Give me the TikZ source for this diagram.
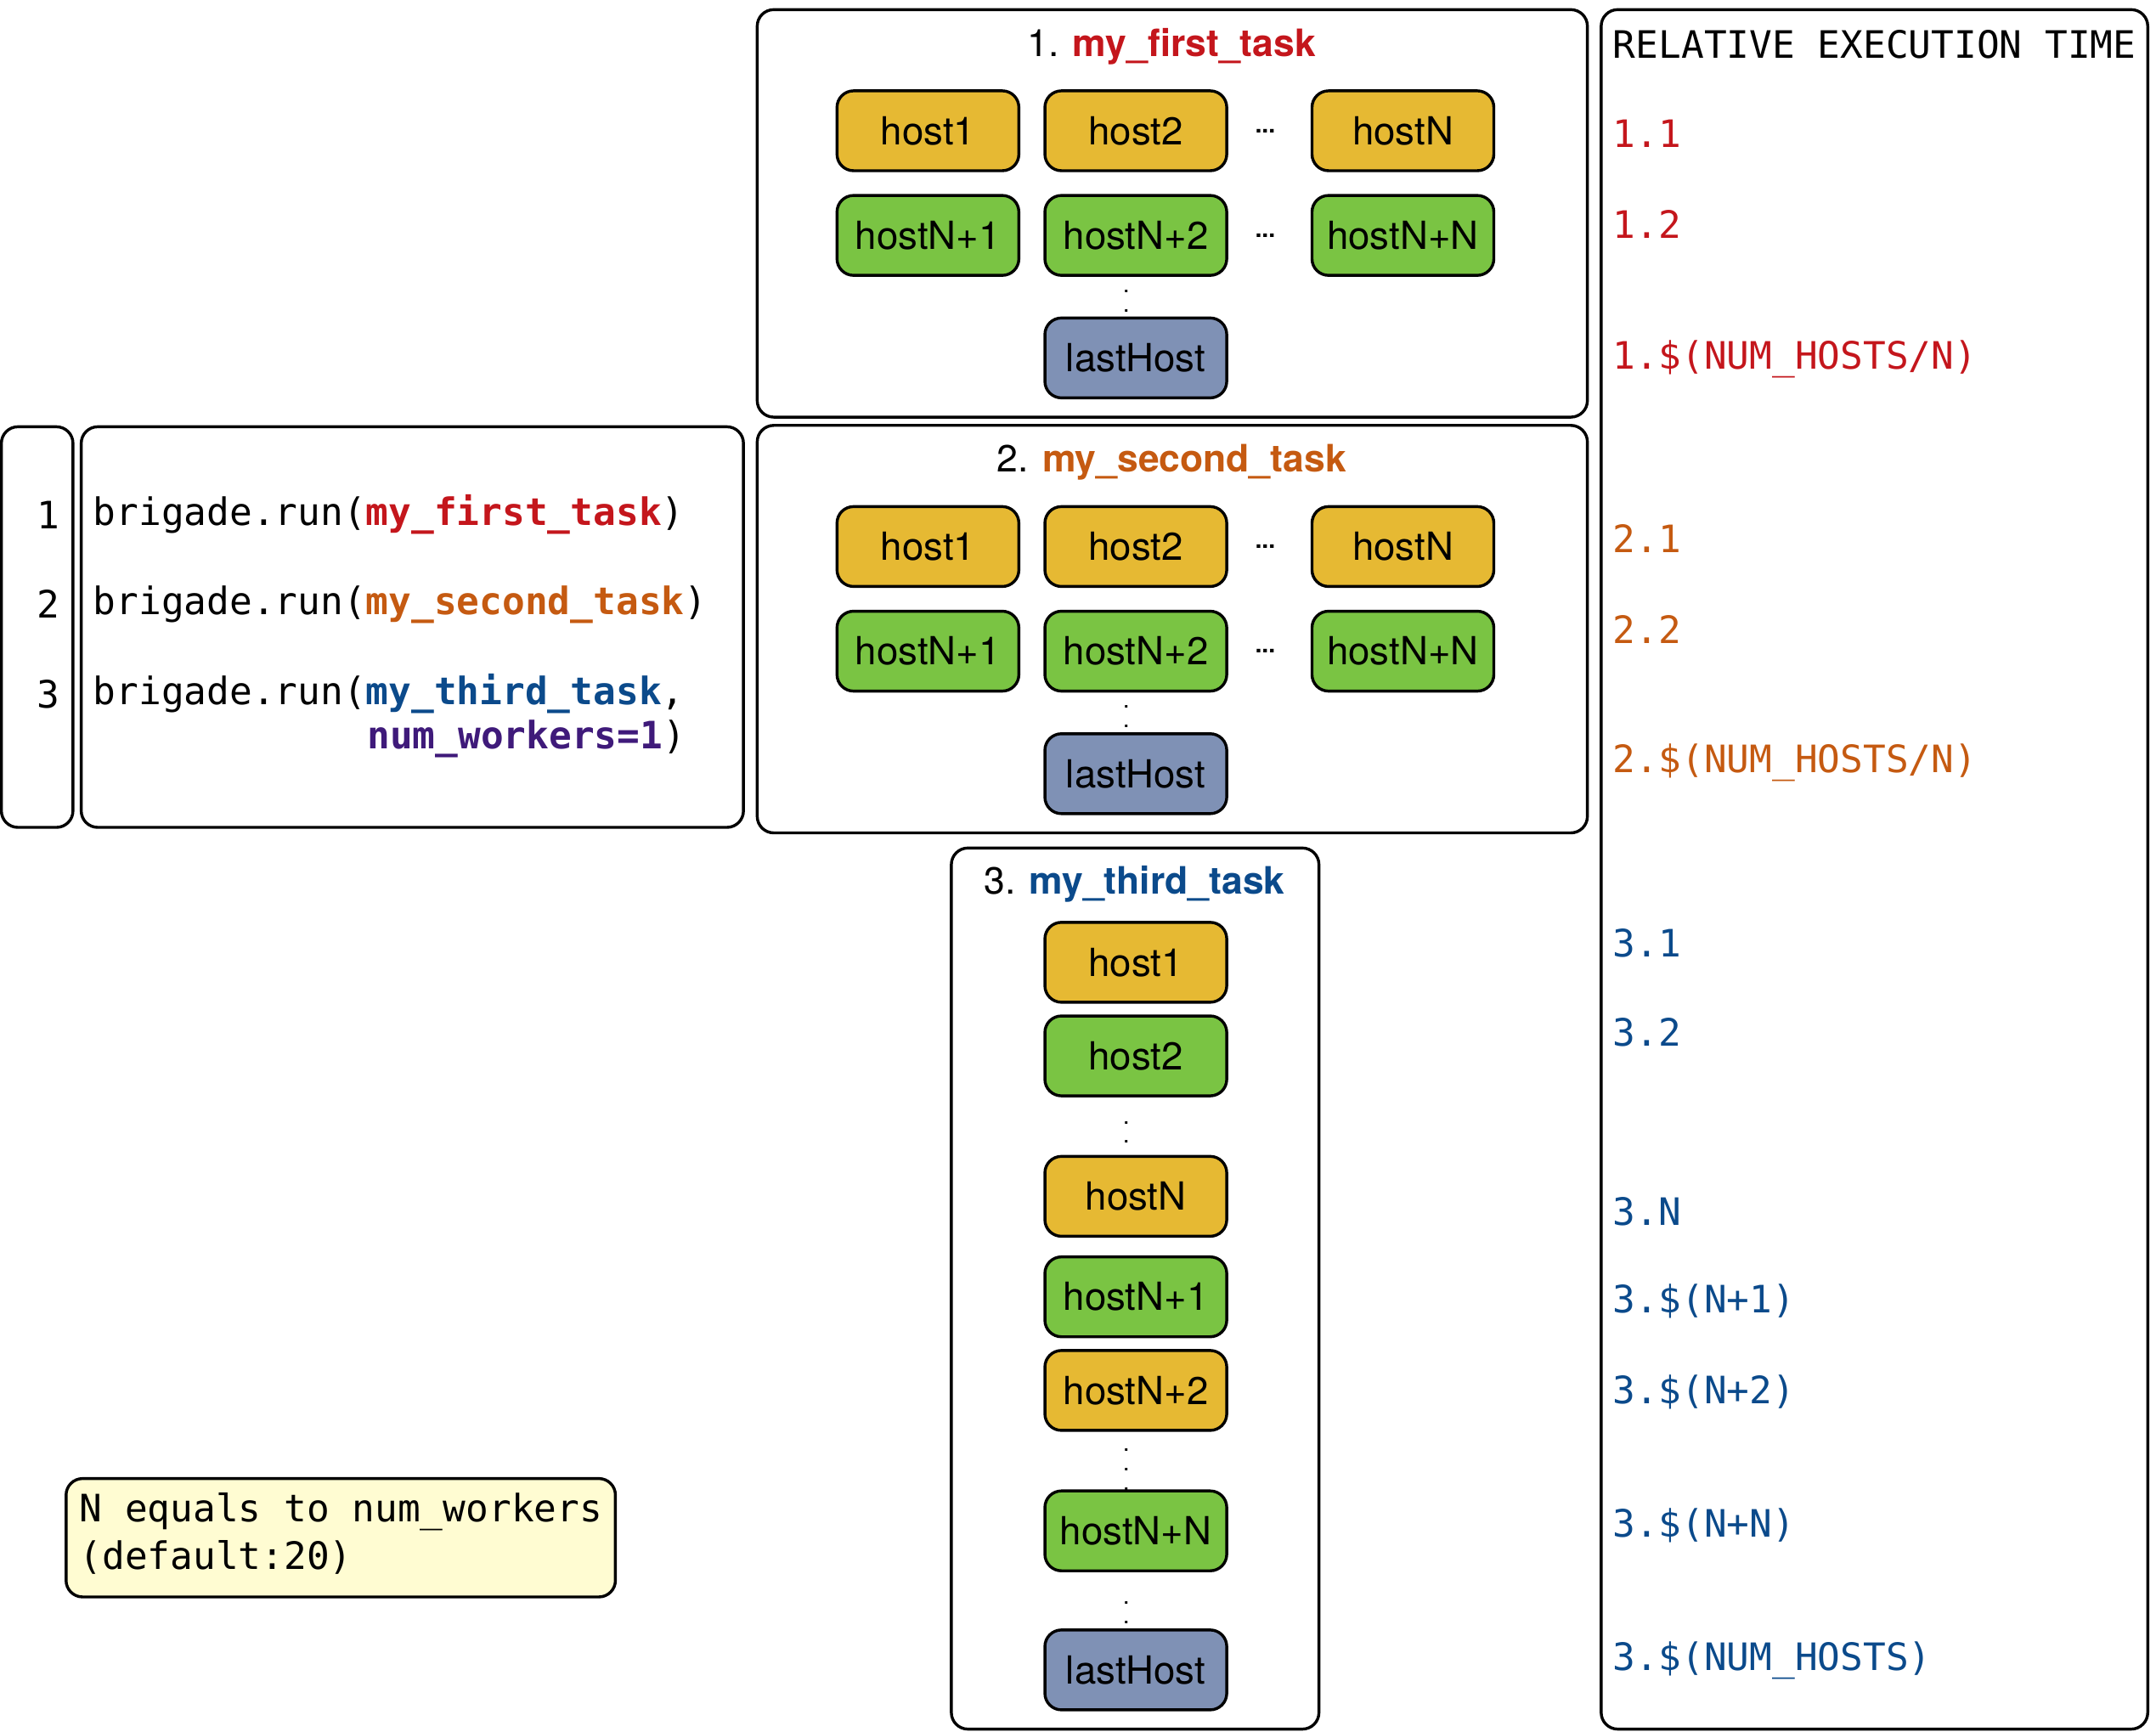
\documentclass[tikz,border=0pt]{standalone}
\usepackage{fontspec}
\setmainfont{TeX Gyre Heros}
\setmonofont{DejaVu Sans Mono}
\usetikzlibrary{positioning}
\definecolor{taskred}{HTML}{C4161C}
\definecolor{taskorange}{HTML}{C55A11}
\definecolor{taskblue}{HTML}{0B4A8B}
\definecolor{taskpurple}{HTML}{3F1A7A}
\definecolor{hostyellow}{HTML}{E6B933}
\definecolor{hostgreen}{HTML}{7AC443}
\definecolor{hostslate}{HTML}{7F91B5}
\definecolor{notefill}{HTML}{FFFCD2}
\begin{document}
\begin{tikzpicture}[x=0.01cm,y=-0.01cm,
    panel/.style={draw,line width=0.6pt,rounded corners=1.2mm},
    host/.style={draw,line width=0.6pt,rounded corners=1.2mm,minimum width=1.32cm,minimum height=0.58cm,inner sep=0pt,font=\fontsize{8}{10}\selectfont},
    yhost/.style={host,fill=hostyellow},
    ghost/.style={host,fill=hostgreen},
    lhost/.style={host,fill=hostslate},
    title/.style={font=\fontsize{7.8}{10}\selectfont},
    code/.style={anchor=west,inner sep=0pt,font=\ttfamily\fontsize{7.8}{9}\selectfont},
    hdots/.style={inner sep=0pt,font=\bfseries\fontsize{5}{5}\selectfont},
    vdot/.style={inner sep=0pt,font=\fontsize{5}{5}\selectfont}]
  \useasboundingbox (0,0) rectangle (1566,1258);

  % tasks 1 and 2
  \foreach \t/\dy/\name/\col in {1/0/my\_first\_task/taskred,2/302/my\_second\_task/taskorange}{
    \draw[panel] (550,7+\dy) rectangle (1153,303+\dy);
    \node[title] (title\t) at (851,34+\dy) {\t. \textcolor{\col}{\bfseries\name}};
    \node[yhost] (a\t) at (674,95+\dy) {host1};
    \node[yhost] (b\t) at (825,95+\dy) {host2};
    \node[yhost] (c\t) at (1019,95+\dy) {hostN};
    \node[ghost] (d\t) at (674,171+\dy) {hostN+1};
    \node[ghost] (e\t) at (825,171+\dy) {hostN+2};
    \node[ghost] (f\t) at (1019,171+\dy) {hostN+N};
    \node[hdots] (g\t) at (919,95+\dy) {...};
    \node[hdots] (h\t) at (919,171+\dy) {...};
    \node[vdot] (v\t) at (818,215+\dy) {$\vdots$};
    \node[lhost] (l\t) at (825,260+\dy) {lastHost};
  }

  % task 3
  \draw[panel] (691,616) rectangle (958,1256);
  \node[title] (title3) at (824,642) {3. \textcolor{taskblue}{\bfseries my\_third\_task}};
  \node[yhost] (a3) at (825,699) {host1};
  \node[ghost] (b3) at (825,767) {host2};
  \node[vdot] (v3a) at (818,819) {$\vdots$};
  \node[yhost] (c3) at (825,869) {hostN};
  \node[ghost] (d3) at (825,942) {hostN+1};
  \node[yhost] (e3) at (825,1010) {hostN+2};
  \node[vdot] (v3b) at (818,1057) {$\vdots$};
  \node[ghost] (f3) at (825,1112) {hostN+N};
  \node[vdot] (v3c) at (818,1168) {$\vdots$};
  \node[lhost] (l3) at (825,1213) {lastHost};

  % relative execution time
  \draw[panel] (1163,7) rectangle (1560,1256);
  \node[code] (rt) at (1171,32) {RELATIVE EXECUTION TIME};
  \foreach \y/\txt/\col in {97/1.1/taskred,163/1.2/taskred,261/{1.\$(NUM\_HOSTS/N)}/taskred,
      391/2.1/taskorange,457/2.2/taskorange,554/{2.\$(NUM\_HOSTS/N)}/taskorange,
      685/3.1/taskblue,750/3.2/taskblue,880/3.N/taskblue,945/3.\$(N+1)/taskblue,
      1011/3.\$(N+2)/taskblue,1108/3.\$(N+N)/taskblue,1206/3.\$(NUM\_HOSTS)/taskblue}
    \node[code,text=\col] at (1171,\y) {\txt};

  % code
  \draw[panel] (1,310) rectangle (53,601);
  \draw[panel] (59,310) rectangle (540,601);
  \foreach \i/\y in {1/374,2/439,3/504}
    \node[code,anchor=east] (ln\i) at (44,\y) {\i};
  \node[code] (c1) at (67,374) {brigade.run(\textcolor{taskred}{\bfseries my\_first\_task})};
  \node[code] (c2) at (67,439) {brigade.run(\textcolor{taskorange}{\bfseries my\_second\_task})};
  \node[code] (c3) at (67,504) {brigade.run(\textcolor{taskblue}{\bfseries my\_third\_task},};
  \node[code] (c4) at (266,537) {\textcolor{taskpurple}{\bfseries num\_workers=1})};

  % note
  \draw[panel,fill=notefill] (48,1074) rectangle (447,1160);
  \node[code] (n1) at (57,1098) {N equals to num\_workers};
  \node[code] (n2) at (57,1131) {(default:20)};
\end{tikzpicture}
\end{document}
